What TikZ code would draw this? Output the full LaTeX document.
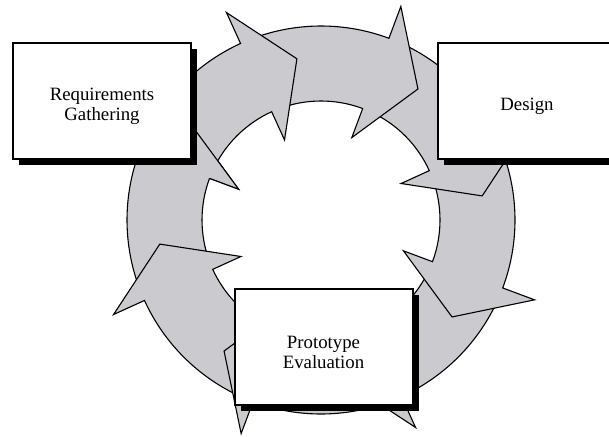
\documentclass[tikz,border=0pt]{standalone}
\usepackage{fontspec}
\setmainfont{Liberation Serif}
\usetikzlibrary{shadows}
\definecolor{ringgray}{RGB}{203,203,207}
\newcommand{\lowtext}{\rule{0pt}{24pt}}
\tikzset{
  stage/.style={draw, line width=2pt, fill=white, minimum width=178pt, minimum height=116pt,
    align=center, font=\fontsize{18.8}{20}\selectfont,
    drop shadow={shadow xshift=6pt, shadow yshift=-6pt, fill=black, opacity=1}},
  ringarrow/.style={fill=ringgray, draw=black, line width=1.1pt, line join=miter}
}
\begin{document}
\begin{tikzpicture}[x=1pt,y=-1pt]
    \useasboundingbox (0,0) rectangle (609,436);
    % eight curved arrows round the cycle, clockwise
    \begin{scope}[shift={(321,220)}]
        \foreach \b in {200.5,155.5,110.5,65.5,20.5,-24.5,-69.5,-114.5}
            \filldraw[ringarrow] ({\b-41}:119) arc[start angle=\b-41, end angle=\b, radius=119]
                -- (\b:88) -- ({\b+16}:163) -- (\b:228) -- (\b:194)
                arc[start angle=\b, end angle=\b-41, radius=194] -- cycle;
        % last head lies over the first arrow
        \fill[ringgray] (200.5:119) -- (200.5:88) -- (216.5:163) -- (200.5:228) -- (200.5:194) -- cycle;
        \draw[line width=1.1pt] (200.5:119) -- (200.5:88) -- (216.5:163) -- (200.5:228) -- (200.5:194);
    \end{scope}
    \node[stage] (req) at (102,101) {\lowtext Requirements\\Gathering};
    \node[stage] (design) at (527,101) {\lowtext Design};
    \node[stage] (proto) at (323.5,347) {\lowtext Prototype\\Evaluation};
\end{tikzpicture}
\end{document}
